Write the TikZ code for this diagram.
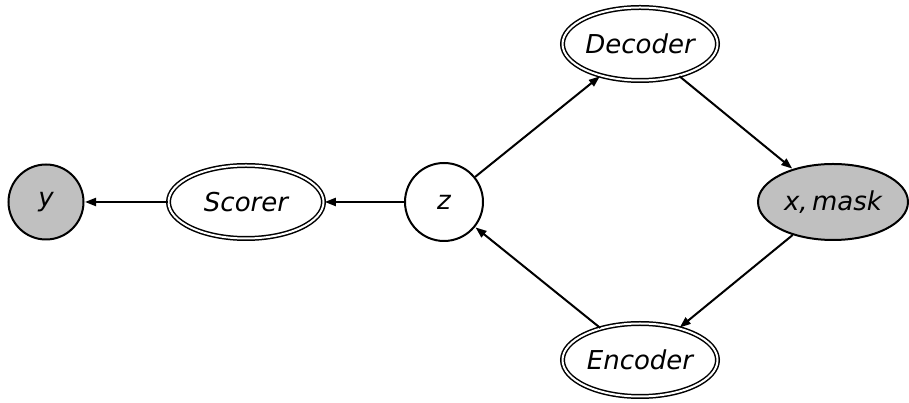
\documentclass[tikz,border=0pt]{standalone}
\usepackage{fontspec}
\setmainfont{DejaVu Sans}
\usetikzlibrary{shapes.geometric,arrows.meta}
\definecolor{obsgray}{RGB}{192,192,192}
\begin{document}
\begin{tikzpicture}[x=1pt,y=1pt,
  every node/.style={font=\fontsize{26}{30}\selectfont\itshape, inner sep=0pt},
  var/.style={circle, draw, line width=2pt, minimum size=75pt},
  obs/.style={fill=obsgray},
  fn/.style={ellipse, draw, line width=1.5pt, double, double distance=2pt,
    minimum width=155pt, minimum height=73pt},
  data/.style={ellipse, draw, line width=2pt, minimum width=150pt, minimum height=76pt},
  edge/.style={line width=2pt, -{Triangle[length=11pt,width=8pt]}, shorten >=0.5pt}]
\useasboundingbox (0,0) rectangle (909,403);
\node[var, obs] (y) at (46,201) {y};
\node[fn] (scorer) at (246,201) {Scorer};
\node[var, minimum size=78pt] (z) at (444,201) {z};
\node[fn] (decoder) at (640,359) {Decoder};
\node[data, obs] (xm) at (833,201) {x,\,mask};
\node[fn] (encoder) at (640,43) {Encoder};
\draw[edge] (scorer) -- (y);
\draw[edge] (z) -- (scorer);
\draw[edge] (z) -- (decoder);
\draw[edge] (decoder) -- (xm);
\draw[edge] (xm) -- (encoder);
\draw[edge] (encoder) -- (z);
\end{tikzpicture}
\end{document}
